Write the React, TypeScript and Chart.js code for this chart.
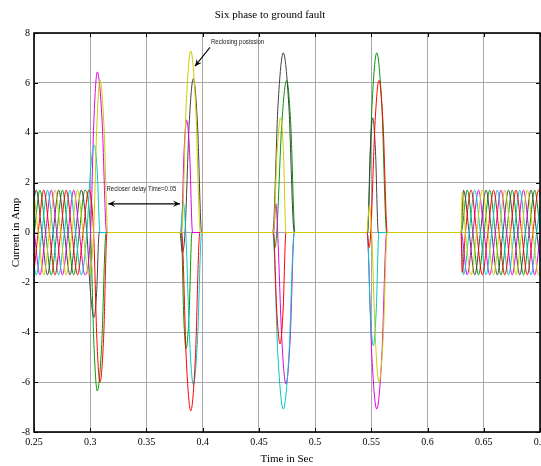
import React, { useEffect, useRef } from 'react';
import { Chart, registerables } from 'chart.js';

Chart.register(...registerables);

// ---- Text ----
const chartTitle = 'Six phase to ground fault';
const xTitle = 'Time in Sec';
const yTitle = 'Current in Amp';

// ---- Ticks ----
const xTickValues = [0.25, 0.3, 0.35, 0.4, 0.45, 0.5, 0.55, 0.6, 0.65, 0.7];
const xTickLabels = ['0.25', '0.3', '0.35', '0.4', '0.45', '0.5', '0.55', '0.6', '0.65', '0.7'];
const yTickValues = [-8, -6, -4, -2, 0, 2, 4, 6, 8];
const yTickLabels = ['-8', '-6', '-4', '-2', '0', '2', '4', '6', '8'];

// ---- Series: [time (s), current (A)] ----
const phaseCyan: [number, number][] = [
  [0.2470, 0], [0.2520, -1.7], [0.2570, 0], [0.2620, 1.7], [0.2670, 0], [0.2720, -1.7], [0.2770, 0],
  [0.2820, 1.7], [0.2870, 0], [0.2920, -1.7], [0.2970, 0],
  [0.3003, 2.5], [0.3036, 3.5], [0.3062, 2.5], [0.3087, 0],
  [0.3800, 0], [0.3828, 1.19], [0.3850, 0], [0.3884, -4.3], [0.3917, -6.1], [0.3954, -4.3], [0.3991, 0],
  [0.4623, 0], [0.4670, -5.0], [0.4717, -7.08], [0.4766, -5.0], [0.4815, 0],
  [0.5464, 0], [0.5491, -3.2], [0.5518, -4.54], [0.5543, -3.2], [0.5568, 0],
  [0.6298, 0], [0.6320, -1.7], [0.6370, 0], [0.6420, 1.7], [0.6470, 0], [0.6520, -1.7], [0.6570, 0],
  [0.6620, 1.7], [0.6670, 0], [0.6720, -1.7], [0.6770, 0], [0.6820, 1.7], [0.6870, 0], [0.6920, -1.7],
  [0.6970, 0], [0.7020, 1.7],
];
const phaseMagenta: [number, number][] = [
  [0.2453, 1.7], [0.2503, 0], [0.2553, -1.7], [0.2603, 0], [0.2653, 1.7], [0.2703, 0], [0.2753, -1.7],
  [0.2803, 0], [0.2853, 1.7], [0.2903, 0], [0.2953, -1.7], [0.3003, 0],
  [0.3033, 4.55], [0.3063, 6.44], [0.3105, 4.55], [0.3146, 0],
  [0.3810, 0], [0.3834, 3.2], [0.3858, 4.5], [0.3884, 3.2], [0.3910, 0],
  [0.4630, 0], [0.4652, 1.15], [0.4667, 0], [0.4704, -4.3], [0.4741, -6.08], [0.4778, -4.3], [0.4815, 0],
  [0.5461, 0], [0.5505, -5.0], [0.5548, -7.08], [0.5593, -5.0], [0.5637, 0],
  [0.6298, 0], [0.6353, -1.7], [0.6403, 0], [0.6453, 1.7], [0.6503, 0], [0.6553, -1.7], [0.6603, 0],
  [0.6653, 1.7], [0.6703, 0], [0.6753, -1.7], [0.6803, 0], [0.6853, 1.7], [0.6903, 0], [0.6953, -1.7],
  [0.7003, 0],
];
const phaseYellow: [number, number][] = [
  [0.2437, 0], [0.2487, 1.7], [0.2537, 0], [0.2587, -1.7], [0.2637, 0], [0.2687, 1.7], [0.2737, 0],
  [0.2787, -1.7], [0.2837, 0], [0.2887, 1.7], [0.2937, 0], [0.2987, -1.7], [0.3030, 0],
  [0.3059, 4.3], [0.3087, 6.1], [0.3122, 4.3], [0.3156, 0],
  [0.3813, 0], [0.3854, 5.15], [0.3894, 7.28], [0.3937, 5.15], [0.3980, 0],
  [0.4629, 0], [0.4662, 3.25], [0.4694, 4.6], [0.4718, 3.25], [0.4741, 0],
  [0.5460, 0], [0.5482, 1.08], [0.5503, 0], [0.5536, -4.25], [0.5568, -6.0], [0.5605, -4.25], [0.5642, 0],
  [0.6298, 0], [0.6308, 1.6], [0.6337, 0], [0.6387, -1.7], [0.6437, 0], [0.6487, 1.7], [0.6537, 0],
  [0.6587, -1.7], [0.6637, 0], [0.6687, 1.7], [0.6737, 0], [0.6787, -1.7], [0.6837, 0], [0.6887, 1.7],
  [0.6937, 0], [0.6987, -1.7], [0.7037, 0],
];
const phaseDark: [number, number][] = [
  [0.2420, -1.7], [0.2470, 0], [0.2520, 1.7], [0.2570, 0], [0.2620, -1.7], [0.2670, 0], [0.2720, 1.7],
  [0.2770, 0], [0.2820, -1.7], [0.2870, 0], [0.2920, 1.7], [0.2970, 0],
  [0.3002, -2.4], [0.3034, -3.4], [0.3057, -2.4], [0.3080, 0],
  [0.3798, 0], [0.3819, -0.8], [0.3843, 0], [0.3880, 4.35], [0.3917, 6.17], [0.3954, 4.35], [0.3991, 0],
  [0.4623, 0], [0.4670, 5.1], [0.4717, 7.2], [0.4766, 5.1], [0.4815, 0],
  [0.5467, 0], [0.5490, 3.25], [0.5512, 4.6], [0.5537, 3.25], [0.5562, 0],
  [0.6298, 0], [0.6320, 1.7], [0.6370, 0], [0.6420, -1.7], [0.6470, 0], [0.6520, 1.7], [0.6570, 0],
  [0.6620, -1.7], [0.6670, 0], [0.6720, 1.7], [0.6770, 0], [0.6820, -1.7], [0.6870, 0], [0.6920, 1.7],
  [0.6970, 0], [0.7020, -1.7],
];
const phaseGreen: [number, number][] = [
  [0.2453, -1.7], [0.2503, 0], [0.2553, 1.7], [0.2603, 0], [0.2653, -1.7], [0.2703, 0], [0.2753, 1.7],
  [0.2803, 0], [0.2853, -1.7], [0.2903, 0], [0.2953, 1.7], [0.3003, 0],
  [0.3033, -4.5], [0.3063, -6.35], [0.3102, -4.5], [0.3141, 0],
  [0.3810, 0], [0.3831, -3.3], [0.3852, -4.67], [0.3879, -3.3], [0.3905, 0],
  [0.4628, 0], [0.4643, -0.6], [0.4659, 0], [0.4703, 4.3], [0.4747, 6.1], [0.4784, 4.3], [0.4821, 0],
  [0.5464, 0], [0.5506, 5.1], [0.5548, 7.2], [0.5593, 5.1], [0.5637, 0],
  [0.6298, 0], [0.6353, 1.7], [0.6403, 0], [0.6453, -1.7], [0.6503, 0], [0.6553, 1.7], [0.6603, 0],
  [0.6653, -1.7], [0.6703, 0], [0.6753, 1.7], [0.6803, 0], [0.6853, -1.7], [0.6903, 0], [0.6953, 1.7],
  [0.7003, 0],
];
const phaseRed: [number, number][] = [
  [0.2437, 0], [0.2487, -1.7], [0.2537, 0], [0.2587, 1.7], [0.2637, 0], [0.2687, -1.7], [0.2737, 0],
  [0.2787, 1.7], [0.2837, 0], [0.2887, -1.7], [0.2937, 0], [0.2987, 1.7], [0.3030, 0],
  [0.3059, -4.25], [0.3087, -6.0], [0.3119, -4.25], [0.3150, 0],
  [0.3813, 0], [0.3854, -5.05], [0.3894, -7.15], [0.3935, -5.05], [0.3975, 0],
  [0.4629, 0], [0.4659, -3.15], [0.4688, -4.47], [0.4715, -3.15], [0.4741, 0],
  [0.5462, 0], [0.5480, -0.6], [0.5495, 0], [0.5532, 4.3], [0.5568, 6.1], [0.5605, 4.3], [0.5642, 0],
  [0.6298, 0], [0.6308, -1.6], [0.6337, 0], [0.6387, 1.7], [0.6437, 0], [0.6487, -1.7], [0.6537, 0],
  [0.6587, 1.7], [0.6637, 0], [0.6687, -1.7], [0.6737, 0], [0.6787, 1.7], [0.6837, 0], [0.6887, -1.7],
  [0.6937, 0], [0.6987, 1.7], [0.7037, 0],
];

// first entry is drawn on top
const seriesList: { name: string; color: string; points: [number, number][] }[] = [
  { name: 'Phase C', color: '#cccc00', points: phaseYellow },
  { name: 'Phase F', color: '#ff0000', points: phaseRed },
  { name: 'Phase A', color: '#00c8c8', points: phaseCyan },
  { name: 'Phase B', color: '#e000e0', points: phaseMagenta },
  { name: 'Phase D', color: '#404040', points: phaseDark },
  { name: 'Phase E', color: '#009a00', points: phaseGreen },
];

// ---- Annotations (data coordinates) ----
const reclosingText = { text: 'Reclosing posission', t: 0.4074, v: 7.64 };
const reclosingArrow = { from: [0.4065, 7.42], to: [0.3932, 6.67] };
const delayText = { text: 'Recloser delay Time=0.05', t: 0.3455, v: 1.73 };
const delayArrow = { from: [0.3161, 1.15], to: [0.3798, 1.15] };

function arrowHead(ctx: CanvasRenderingContext2D, x1: number, y1: number, x2: number, y2: number) {
  const ang = Math.atan2(y2 - y1, x2 - x1);
  const len = 7;
  const half = 3.2;
  ctx.beginPath();
  ctx.moveTo(x2, y2);
  ctx.lineTo(x2 - len * Math.cos(ang) + half * Math.sin(ang), y2 - len * Math.sin(ang) - half * Math.cos(ang));
  ctx.lineTo(x2 - len * 0.6 * Math.cos(ang), y2 - len * 0.6 * Math.sin(ang));
  ctx.lineTo(x2 - len * Math.cos(ang) - half * Math.sin(ang), y2 - len * Math.sin(ang) + half * Math.cos(ang));
  ctx.closePath();
  ctx.fill();
}

function narrowText(ctx: CanvasRenderingContext2D, text: string, x: number, y: number, align: 'left' | 'center') {
  const squeeze = 0.86;
  ctx.save();
  ctx.translate(x, y);
  ctx.scale(squeeze, 1);
  ctx.textAlign = align;
  ctx.fillText(text, 0, 0);
  ctx.restore();
}

const annotationPlugin = {
  id: 'annotations',
  afterDatasetsDraw(chart: any) {
    const { ctx, scales } = chart;
    const px = (t: number) => scales.x.getPixelForValue(t);
    const py = (v: number) => scales.y.getPixelForValue(v);
    ctx.save();
    ctx.fillStyle = '#222';
    ctx.strokeStyle = '#000';
    ctx.lineWidth = 1.1;
    ctx.font = '7px "Liberation Sans", Arial, sans-serif';
    ctx.textBaseline = 'middle';
    narrowText(ctx, reclosingText.text, px(reclosingText.t), py(reclosingText.v), 'left');
    narrowText(ctx, delayText.text, px(delayText.t), py(delayText.v), 'center');

    ctx.fillStyle = '#000';
    let x1 = px(reclosingArrow.from[0]), y1 = py(reclosingArrow.from[1]);
    let x2 = px(reclosingArrow.to[0]), y2 = py(reclosingArrow.to[1]);
    ctx.beginPath(); ctx.moveTo(x1, y1); ctx.lineTo(x2, y2); ctx.stroke();
    arrowHead(ctx, x1, y1, x2, y2);
    x1 = px(delayArrow.from[0]); y1 = py(delayArrow.from[1]);
    x2 = px(delayArrow.to[0]); y2 = py(delayArrow.to[1]);
    ctx.lineWidth = 1.3;
    ctx.beginPath(); ctx.moveTo(x1, y1); ctx.lineTo(x2, y2); ctx.stroke();
    arrowHead(ctx, x1, y1, x2, y2);
    arrowHead(ctx, x2, y2, x1, y1);
    ctx.restore();
  },
};

const framePlugin = {
  id: 'frame',
  afterDraw(chart: any) {
    const { ctx, chartArea: a, scales } = chart;
    ctx.save();
    ctx.strokeStyle = '#000';
    ctx.lineWidth = 1;
    ctx.beginPath();
    for (const v of xTickValues) {
      const x = Math.round(scales.x.getPixelForValue(v)) + 0.5;
      ctx.moveTo(x, a.top); ctx.lineTo(x, a.top + 4);
      ctx.moveTo(x, a.bottom); ctx.lineTo(x, a.bottom - 4);
    }
    for (const v of yTickValues) {
      const y = Math.round(scales.y.getPixelForValue(v)) + 0.5;
      ctx.moveTo(a.left, y); ctx.lineTo(a.left + 4, y);
      ctx.moveTo(a.right, y); ctx.lineTo(a.right - 4, y);
    }
    ctx.stroke();
    ctx.lineWidth = 1.6;
    ctx.strokeRect(a.left, a.top, a.right - a.left, a.bottom - a.top);
    ctx.restore();
  },
};

export default function App() {
  const ref = useRef<HTMLCanvasElement | null>(null);
  useEffect(() => {
    if (!ref.current) return;
    const serif = 'Liberation Serif, "Times New Roman", serif';
    const chart = new Chart(ref.current, {
      type: 'line',
      data: {
        datasets: seriesList.map((s) => ({
          label: s.name,
          data: s.points.map(([x, y]) => ({ x, y })),
          borderColor: s.color,
          backgroundColor: s.color,
          borderWidth: 1,
          pointRadius: 0,
          fill: false,
          cubicInterpolationMode: 'monotone' as const,
        })),
      },
      options: {
        responsive: false,
        animation: false,
        events: [],
        layout: { padding: { left: 0, right: 1, top: 0, bottom: 0 } },
        plugins: {
          legend: { display: false },
          tooltip: { enabled: false },
          title: {
            display: true,
            text: chartTitle,
            color: '#000',
            font: { family: serif, size: 11, weight: 'normal' },
            padding: { top: 8.5, bottom: 11.3 },
          },
        },
        scales: {
          x: {
            type: 'linear',
            min: 0.25,
            max: 0.7,
            afterBuildTicks: (scale: any) => {
              scale.ticks = xTickValues.map((v) => ({ value: v }));
            },
            afterFit: (scale: any) => {
              scale.height = 34;
              scale.paddingLeft = 0;
              scale.paddingRight = 0;
            },
            ticks: {
              autoSkip: false,
              maxRotation: 0,
              padding: 4,
              color: '#000',
              font: { family: serif, size: 10 },
              callback: (_v: any, i: number) => xTickLabels[i],
            },
            grid: { color: '#a8a8a8', lineWidth: 1, drawTicks: false },
            border: { display: false },
            title: {
              display: true,
              text: xTitle,
              color: '#000',
              font: { family: serif, size: 11 },
              padding: { top: 0, bottom: 0 },
            },
          },
          y: {
            type: 'linear',
            min: -8,
            max: 8,
            afterBuildTicks: (scale: any) => {
              scale.ticks = yTickValues.map((v) => ({ value: v }));
            },
            afterFit: (scale: any) => {
              scale.width = 34;
              scale.paddingTop = 0;
              scale.paddingBottom = 0;
            },
            ticks: {
              autoSkip: false,
              padding: 4,
              color: '#000',
              font: { family: serif, size: 10 },
              callback: (_v: any, i: number) => yTickLabels[i],
            },
            grid: { color: '#a8a8a8', lineWidth: 1, drawTicks: false },
            border: { display: false },
            title: {
              display: true,
              text: yTitle,
              color: '#000',
              font: { family: serif, size: 11 },
              padding: { top: 9.5, bottom: 0 },
            },
          },
        },
      },
      plugins: [annotationPlugin, framePlugin],
    } as any);
    return () => chart.destroy();
  }, []);
  return (
    <div style={{ position: 'absolute', left: 0, top: 0, width: 541, height: 466, background: '#fff' }}>
      <canvas ref={ref} width={541} height={466} style={{ display: 'block' }} />
    </div>
  );
}
